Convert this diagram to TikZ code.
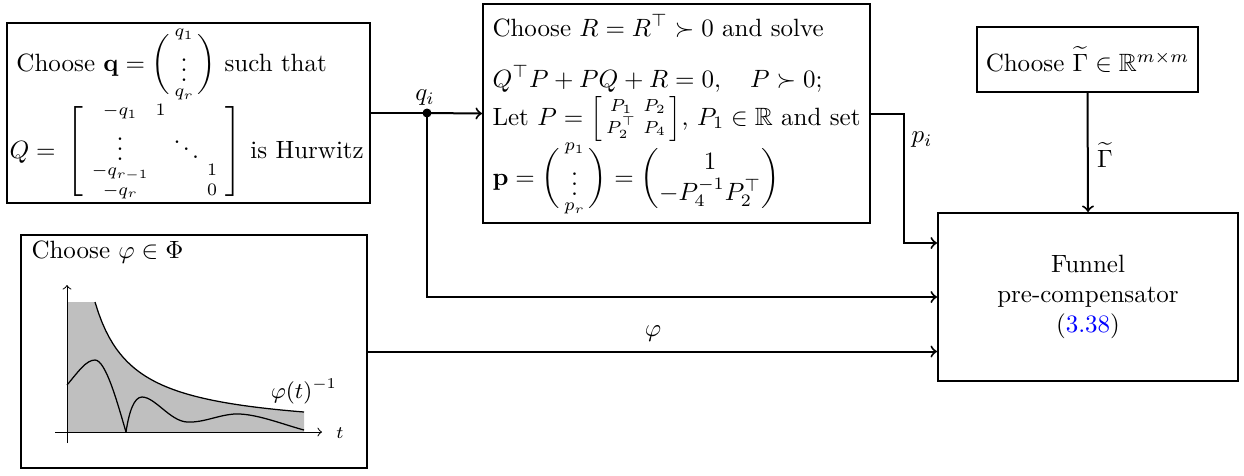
\documentclass[tikz,border=0pt]{standalone}
\usepackage{amsmath,amssymb}
\usetikzlibrary{calc}
\def\pxu{0.40}
\tikzset{
  box/.style={draw, thick, rectangle, inner sep=0pt},
  txt/.style={anchor=base west, inner sep=0pt},
  conn/.style={thick, ->},
  curve/.style={line width=0.5pt},
}
\begin{document}
\begin{tikzpicture}[x=\pxu pt, y=-\pxu pt]
\useasboundingbox (0,0) rectangle (1244,475);
% boxes
\node[box, minimum width={363*\pxu pt}, minimum height={180*\pxu pt}] (b1) at (188.5,113) {};
\node[box, minimum width={387*\pxu pt}, minimum height={219*\pxu pt}] (b2) at (676.5,113.5) {};
\node[box, minimum width={221*\pxu pt}, minimum height={65*\pxu pt}] (b3) at (1087.5,59.5) {Choose $\widetilde{\Gamma}\in\mathbb{R}^{m\times m}$};
\node[box, minimum width={346*\pxu pt}, minimum height={233*\pxu pt}] (b4) at (194,351.5) {};
\node[box, minimum width={300*\pxu pt}, minimum height={168*\pxu pt}, align=center] (b5) at (1088,297) {Funnel\\pre-compensator\\(\textcolor{blue}{3.38})};
% texts box 1
\node[txt] (t11) at (16,71) {Choose $\mathbf{q}=\biggl(\begin{smallmatrix}q_1\\ \vdots\\ q_r\end{smallmatrix}\biggr)$ such that};
\node[txt] (t12) at (9,158) {$Q=\,\left[\,\begin{smallmatrix}-q_1 & 1 & & \\ \vdots & & \ddots & \\ -q_{r-1} & & & 1\\ -q_r & & & 0\end{smallmatrix}\,\right]$ is Hurwitz};
% texts box 2
\node[txt] (t21) at (492,36) {Choose $R=R^\top\succ 0$ and solve};
\node[txt] (t22) at (492,87) {$Q^\top P+PQ+R=0,\quad P\succ 0;$};
\node[txt] (t23) at (492,125) {Let $P=\left[\begin{smallmatrix}P_1 & P_2\\ P_2^\top & P_4\end{smallmatrix}\right]$, $P_1\in\mathbb{R}$ and set};
\node[txt] (t24) at (492,185) {$\mathbf{p}=\biggl(\begin{smallmatrix}p_1\\ \vdots\\ p_r\end{smallmatrix}\biggr)=\begin{pmatrix}1\\ -P_4^{-1}P_2^\top\end{pmatrix}$};
% box 4
\node[txt] (t41) at (31,258) {Choose $\varphi\in\Phi$};
\fill[gray!50] (67,432) -- (67,302) -- (95,302)
  -- plot[domain=95:304, samples=60] (\x, {432-4940/(\x-57)}) -- (304,432) -- cycle;
\draw[curve] plot[domain=95:304, samples=60] (\x, {432-4940/(\x-57)});
\draw[->, line width=0.4pt] (55,432) -- (322,432);
\draw[->, line width=0.4pt] (67,443) -- (67,285);
\draw[curve] (67,385) .. controls (78,372) and (86,360) .. (95,360)
  .. controls (106,360) and (118,405) .. (126,432);
\draw[curve] (126,432) .. controls (129,412) and (134,397) .. (142,397)
  .. controls (155,397) and (170,421) .. (187,422)
  .. controls (205,423) and (222,413) .. (240,414)
  .. controls (260,415) and (285,425) .. (304,430);
\node[anchor=base, inner sep=0pt, font=\small] (lphi1) at (304,398) {$\varphi(t)^{-1}$};
\node[inner sep=0pt, font=\scriptsize] (lt) at (340,433) {$t$};
% connectors
\coordinate (qi) at (427,113);
\draw[thick] (b1.east) -- (qi);
\draw[conn] (qi) -- (b2.west);
\fill (qi) circle (1.8pt);
\node[inner sep=0pt] (lqi) at (425,98) {$q_i$};
\draw[conn] (qi) |- (b5.west);
\draw[conn] (b4.east) -- (b4.east -| b5.west);
\node[inner sep=0pt] (lphi) at (653,334) {$\varphi$};
\draw[conn] (b2.east) -- ++(33,0) |- ($(b5.west)+(0,-54)$);
\node[inner sep=0pt] (lpi) at (922,140) {$p_i$};
\draw[conn] (b3.south) -- (b5.north);
\node[inner sep=0pt] (lg) at (1105,155) {$\widetilde{\Gamma}$};
\end{tikzpicture}
\end{document}
